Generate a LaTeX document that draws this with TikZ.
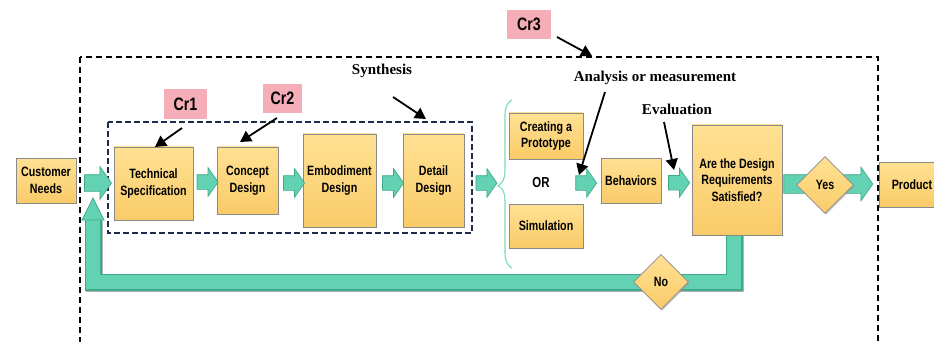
\documentclass[tikz,border=0pt]{standalone}
\usepackage{fontspec}
\newfontfamily\boxfont[FakeStretch=0.79]{Liberation Sans}
\newfontfamily\labfont{Liberation Serif}
\usetikzlibrary{shapes.geometric,shapes.arrows,shadows,decorations.pathreplacing,arrows.meta,calc}
\definecolor{boxtop}{HTML}{FFE193}
\definecolor{boxbot}{HTML}{F9CB68}
\definecolor{boxedge}{HTML}{8A8A8A}
\definecolor{tealA}{HTML}{62D2B2}
\definecolor{tealB}{HTML}{3FA98C}
\definecolor{pinkbox}{HTML}{F5AEB8}
\definecolor{navy}{HTML}{1E2B4A}
\definecolor{bracecol}{HTML}{7ED8BE}
\begin{document}
\begin{tikzpicture}[x=1pt,y=-1pt,
  box/.style={draw=boxedge, line width=0.8pt, top color=boxtop, bottom color=boxbot,
    drop shadow={shadow xshift=1.3pt,shadow yshift=-1.3pt,fill=black!40},
    align=center, inner sep=1pt,
    font=\boxfont\bfseries\fontsize{13.5}{16.5}\selectfont},
  dia/.style={box, diamond, aspect=1, inner sep=0pt, minimum width=57pt, minimum height=57pt},
  pinkb/.style={fill=pinkbox, inner sep=0pt, font=\boxfont\bfseries\fontsize{18}{20}\selectfont},
  barrow/.style={single arrow, single arrow head extend=7pt, single arrow head indent=0pt,
    single arrow tip angle=110, inner xsep=0pt, inner ysep=7pt,
    minimum height=21pt, fill=tealA, draw=tealB, line width=0.7pt},
  blk/.style={-{Triangle[length=11pt,width=12pt]}, line width=1.8pt, black},
  lab/.style={font=\labfont\bfseries\fontsize{15}{17}\selectfont, inner sep=0pt},
  outerbox/.style={dash pattern=on 6pt off 4pt, line width=1.1pt, black},
  innerbox/.style={dash pattern=on 6pt off 3pt, line width=1.8pt, navy}
]
\useasboundingbox (0,0) rectangle (934,342);
\clip (0,0) rectangle (934,342);

% outer dashed frame
\draw[outerbox] (80,57) rectangle (878,370);
% synthesis frame
\draw[innerbox] (108,122) rectangle (472,233);

% boxes
\node[box, minimum width=60pt, minimum height=45pt] (cn) at (46,180.5) {Customer\\Needs};
\node[box, minimum width=79pt, minimum height=73pt] (ts) at (153.5,183.5) {Technical\\Specification};
\node[box, minimum width=61pt, minimum height=67pt] (cd) at (247.5,180.5) {Concept\\Design};
\node[box, minimum width=73pt, minimum height=93pt] (ed) at (339.5,180.5) {Embodiment\\Design};
\node[box, minimum width=61pt, minimum height=93pt] (dd) at (433.5,180.5) {Detail\\Design};
\node[box, minimum width=74pt, minimum height=46pt] (cp) at (546,136) {Creating a\\Prototype};
\node[box, minimum width=74pt, minimum height=44pt] (sim) at (546,226) {Simulation};
\node[font=\boxfont\bfseries\fontsize{14.5}{16}\selectfont] (or) at (541,183) {OR};
\node[box, minimum width=60pt, minimum height=45pt] (beh) at (631,180.5) {Behaviors};
\node[box, minimum width=66pt, minimum height=45pt] (prod) at (912,184.5) {Product};

% feedback loop (drawn before the decision box)
\coordinate (fbend) at (93,198);
\coordinate (fbstart) at (734,230);
\draw[black!30, line width=17pt, line join=miter] ($(fbstart)+(1.5,1.5)$) |- (94.5,283.5) -- (94.5,221);
\draw[tealB, line width=17pt, line join=miter] (fbstart) |- ($(fbend)+(0,84)$) -- ($(fbend)+(0,22)$);
\draw[tealA, line width=14.6pt, line join=miter] (fbstart) |- ($(fbend)+(0,84)$) -- ($(fbend)+(0,22)$);
\filldraw[fill=tealA, draw=tealB, line width=0.7pt] (fbend) -- ($(fbend)+(-11,22)$) -- ($(fbend)+(11,22)$) -- cycle;

\node[box, minimum width=90pt, minimum height=110pt] (are) at (737,180) {Are the Design\\Requirements\\Satisfied?};

% block arrows
\node[barrow, minimum height=27pt, inner ysep=8pt, single arrow head extend=8pt] (a0) at ($(cn.east)!0.5!(ts.west)+(0,1)$) {};
\node[barrow] (a1) at ($(ts.east)!0.5!(cd.west)$) {};
\node[barrow] (a2) at ($(cd.east)!0.5!(ed.west)+(1,2.5)$) {};
\node[barrow] (a3) at ($(ed.east)!0.5!(dd.west)+(1,2.5)$) {};
\node[barrow] (a4) at ($(dd.east)+(19.5,2.5)$) {};
\node[barrow] (a5) at ($(beh.west)+(-17,2.5)$) {};
\node[barrow] (a6) at ($(beh.east)!0.5!(are.west)+(0,2.5)$) {};
\node[barrow, minimum height=89pt, inner ysep=9pt, single arrow head extend=7.5pt, anchor=west] (ya) at ($(are.east)+(1,4)$) {};

% brace
\draw[bracecol, line width=1.1pt, decorate, decoration={brace, amplitude=14pt, aspect=0.49}] (512,268) -- (512,100);

% decisions
\node[dia] (yes) at ($(ya.center)+(0,1)$) {Yes};
\node[dia, minimum width=55pt, minimum height=55pt] (no) at (661,282) {No};

% callouts
\node[pinkb, minimum width=43pt, minimum height=30pt] (cr1) at (185.5,104) {Cr1};
\node[pinkb, minimum width=39pt, minimum height=29pt] (cr2) at (282.5,98.5) {Cr2};
\node[pinkb, minimum width=44pt, minimum height=29pt] (cr3) at (529,24.5) {Cr3};
\node[lab] (syn) at (382,71) {Synthesis};
\node[lab] (ana) at (655,78) {Analysis or measurement};
\node[lab] (eva) at (677,109) {Evaluation};

\coordinate (cr1s) at (182,128);  \coordinate (cr1e) at (155,147);
\coordinate (cr2s) at (277,118);  \coordinate (cr2e) at (240,142);
\coordinate (cr3s) at (557,37);   \coordinate (cr3e) at (592,56);
\coordinate (syns) at (393,97);   \coordinate (syne) at (426,119);
\coordinate (anas) at (605,92);   \coordinate (anae) at (579,175);
\coordinate (evas) at (664,122);  \coordinate (evae) at (674,170);
\draw[blk] (cr1s) -- (cr1e);
\draw[blk] (cr2s) -- (cr2e);
\draw[blk] (cr3s) -- (cr3e);
\draw[blk] (syns) -- (syne);
\draw[blk] (anas) -- (anae);
\draw[blk] (evas) -- (evae);
\end{tikzpicture}
\end{document}
